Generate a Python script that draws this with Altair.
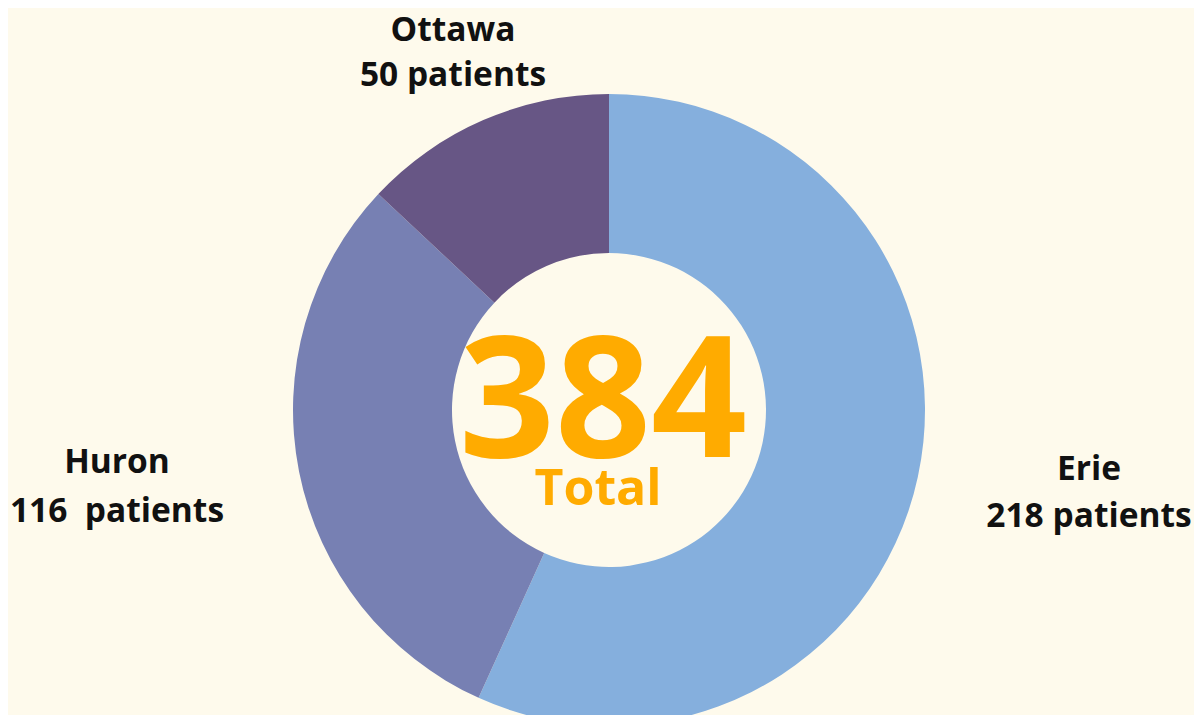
import altair as alt
import pandas as pd

regions = ["Erie", "Huron", "Ottawa"]
patients = [218, 116, 50]
label_lines = ["Erie", "Huron", "Ottawa"]
count_lines = ["218 patients", "116\u00a0 patients", "50 patients"]
colors = ["#85AFDD", "#7780B3", "#675685"]
total_value = "384"
total_word = "Total"

BG = "#FEFAEC"
CX, CY = 601, 402

df = pd.DataFrame({"region": regions, "patients": patients, "order": [0, 1, 2]})

arc = alt.Chart(df).mark_arc(outerRadius=316, innerRadius=157, stroke=None).encode(
    theta=alt.Theta("patients:Q", stack=True),
    order=alt.Order("order:Q"),
    color=alt.Color("region:N", scale=alt.Scale(domain=regions, range=colors), legend=None),
    x=alt.value(CX),
    y=alt.value(CY),
)

# label anchors (pixels)
lab = pd.DataFrame({
    "name": label_lines,
    "count": count_lines,
    "px": [1081, 109, 445],
    "py1": [472, 465, 33],
    "py2": [519, 514, 78],
})

name_text = alt.Chart(lab).mark_text(
    font="Open Sans", fontWeight="bold", fontSize=33.5, color="#111111", baseline="alphabetic", align="center"
).encode(x=alt.X("px:Q", scale=None), y=alt.Y("py1:Q", scale=None), text="name:N")

count_text = alt.Chart(lab).mark_text(
    font="Open Sans", fontWeight="bold", fontSize=33.5, color="#111111", baseline="alphabetic", align="center"
).encode(x=alt.X("px:Q", scale=None), y=alt.Y("py2:Q", scale=None), text="count:N")

center = pd.DataFrame({"t": [total_value], "w": [total_word]})
big = alt.Chart(center).mark_text(
    font="Open Sans", fontWeight="bold", fontSize=168, color="#FFAB00", baseline="alphabetic", align="center"
).encode(x=alt.value(595), y=alt.value(449), text="t:N")
small = alt.Chart(center).mark_text(
    font="Open Sans", fontWeight="bold", fontSize=50, color="#FFAB00", baseline="alphabetic", align="center"
).encode(x=alt.value(590), y=alt.value(497), text="w:N")

chart = alt.layer(arc, name_text, count_text, big, small).properties(
    width=1186, height=707, background=BG, padding=0,
    autosize=alt.AutoSizeParams(type="none"),
).configure_view(stroke=None)

chart.save("out.html", embed_options={"renderer": "svg", "actions": False})
